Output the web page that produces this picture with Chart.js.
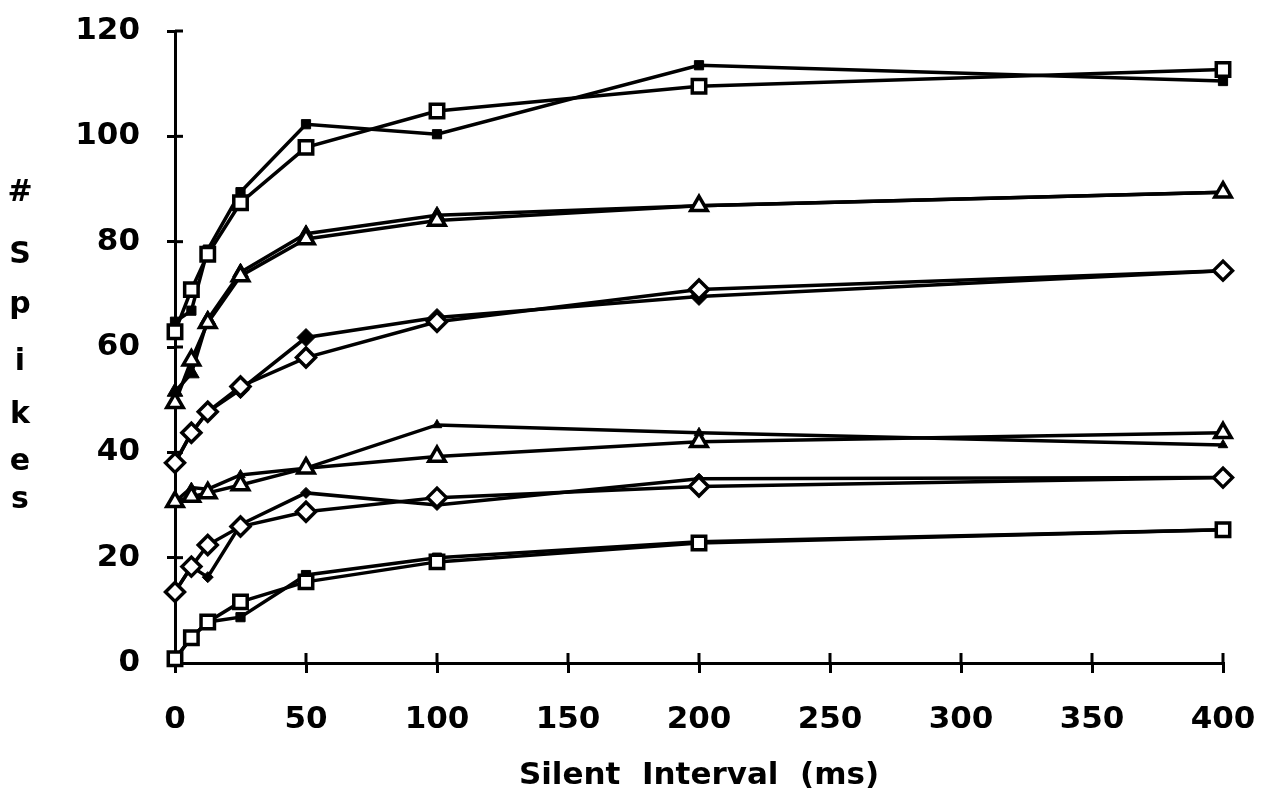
<!DOCTYPE html>
<html>
<head>
<meta charset="utf-8">
<script src="https://cdn.jsdelivr.net/npm/chart.js@4/dist/chart.umd.min.js"></script>
<style>
  html, body { margin: 0; padding: 0; background: #fff; }
  #wrap { position: relative; width: 1276px; height: 804px; }
</style>
</head>
<body>
<div id="wrap"><canvas id="c" width="1276" height="804"></canvas></div>
<script>
// ---- data ----
const intervals = [0, 6.25, 12.5, 25, 50, 100, 200, 400];
const xTickLabels = ['0','50','100','150','200','250','300','350','400'];
const yTickLabels = ['0','20','40','60','80','100','120'];
const xTitle = 'Silent  Interval  (ms)';
const yTitleLetters = ['#', 'S', 'p', 'i', 'k', 'e', 's'];

const sqTopOpen    = [62.9, 70.9, 77.6, 87.4, 97.9, 104.8, 109.5, 112.7];
const sqTopFilled  = [64.8, 66.9, 78.5, 89.4, 102.3, 100.4, 113.5, 110.5];
const triTopOpen   = [49.4, 57.5, 64.6, 73.5, 80.5, 84.0, 86.8, 89.4];
const triTopFilled = [51.5, 55.0, 65.2, 74.2, 81.5, 85.0, 86.8, 89.4];
const diaMidOpen   = [38.0, 43.7, 47.7, 52.5, 58.0, 64.8, 70.9, 74.5];
const diaMidFilled = [38.0, 43.7, 47.7, 51.9, 61.8, 65.6, 69.6, 74.5];
const triLowOpen   = [30.6, 31.6, 32.3, 33.8, 37.0, 39.2, 42.0, 43.7];
const triLowFilled = [30.6, 33.3, 33.0, 35.7, 37.0, 45.2, 43.7, 41.4];
const diaLowOpen   = [13.5, 18.3, 22.4, 25.9, 28.7, 31.4, 33.5, 35.2];
const diaLowFilled = [13.5, 18.3, 16.3, 26.3, 32.3, 30.0, 35.0, 35.2];
const sqLowOpen    = [0.8, 4.8, 7.8, 11.6, 15.4, 19.2, 22.8, 25.3];
const sqLowFilled  = [0.8, 4.8, 7.8, 8.7, 16.7, 20.0, 23.0, 25.3];

// ---- build datasets ----
const pts = vals => intervals.map((x, i) => ({ x: x, y: vals[i] }));
function openDs(vals, style, r) {
  return { data: pts(vals), borderColor: '#000', borderWidth: 3.5,
    pointStyle: style, pointRadius: r, pointBorderWidth: 3.5,
    pointBackgroundColor: '#fff', pointBorderColor: '#000', clip: false, tension: 0 };
}
function filledDs(vals, style, r) {
  return { data: pts(vals), borderColor: '#000', borderWidth: 3.5,
    pointStyle: style, pointRadius: r, pointBorderWidth: 1,
    pointBackgroundColor: '#000', pointBorderColor: '#000', clip: false, tension: 0 };
}
const datasets = [
  openDs(sqTopOpen, 'rect', 9.5),
  openDs(triTopOpen, 'triangle', 9.5),
  openDs(diaMidOpen, 'rectRot', 9.5),
  openDs(triLowOpen, 'triangle', 9.5),
  openDs(diaLowOpen, 'rectRot', 9.5),
  openDs(sqLowOpen, 'rect', 9.5),
  filledDs(sqTopFilled, 'rect', 6.5),
  filledDs(triTopFilled, 'triangle', 9),
  filledDs(diaMidFilled, 'rectRot', 9),
  filledDs(triLowFilled, 'triangle', 5.5),
  filledDs(diaLowFilled, 'rectRot', 5.5),
  filledDs(sqLowFilled, 'rect', 6.5)
];

const FONT = "'DejaVu Sans', sans-serif";

const innerTicks = {
  id: 'innerTicks',
  beforeDatasetsDraw(chart) {
    const { ctx, chartArea, scales: { x, y } } = chart;
    ctx.save();
    ctx.strokeStyle = '#000';
    ctx.lineWidth = 3;
    x.ticks.forEach(t => {
      const px = x.getPixelForValue(t.value);
      ctx.beginPath(); ctx.moveTo(px, chartArea.bottom); ctx.lineTo(px, chartArea.bottom - 10); ctx.stroke();
    });
    y.ticks.forEach(t => {
      const py = y.getPixelForValue(t.value);
      ctx.beginPath(); ctx.moveTo(chartArea.left, py); ctx.lineTo(chartArea.left + 8, py); ctx.stroke();
    });
    ctx.restore();
  }
};

const yTitleCenters = [193, 255, 305, 362, 415, 462, 500];
const stackedTitle = {
  id: 'stackedTitle',
  afterDraw(chart) {
    const ctx = chart.ctx;
    ctx.save();
    ctx.fillStyle = '#000';
    ctx.font = "bold 30px " + FONT;
    ctx.textAlign = 'center';
    ctx.textBaseline = 'middle';
    yTitleLetters.forEach((ch, i) => ctx.fillText(ch, 20, yTitleCenters[i]));
    ctx.restore();
  }
};

new Chart(document.getElementById('c'), {
  type: 'line',
  data: { datasets },
  options: {
    responsive: false,
    animation: false,
    events: [],
    layout: { padding: { top: 31, right: 53, left: 0, bottom: 0 } },
    plugins: { legend: { display: false }, tooltip: { enabled: false } },
    scales: {
      x: {
        type: 'linear', min: 0, max: 400,
        afterFit: s => { s.height = 141; s.paddingLeft = 0; s.paddingRight = 0; },
        afterBuildTicks: s => { s.ticks = xTickLabels.map(v => ({ value: Number(v) })); },
        ticks: {
          color: '#000', font: { family: FONT, size: 31, weight: 'bold' }, padding: 28,
          maxRotation: 0, autoSkip: false,
          callback: (v, i) => xTickLabels[i]
        },
        grid: { drawOnChartArea: false, drawTicks: true, tickLength: 10, color: '#000', lineWidth: 3 },
        border: { display: true, color: '#000', width: 3 },
        title: { display: true, text: xTitle, color: '#000',
          font: { family: FONT, size: 31, weight: 'bold' }, padding: { top: 0, bottom: 9 } }
      },
      y: {
        type: 'linear', min: 0, max: 120,
        afterFit: s => { s.width = 175; s.paddingTop = 0; s.paddingBottom = 0; },
        afterBuildTicks: s => { s.ticks = yTickLabels.map(v => ({ value: Number(v) })); },
        ticks: {
          color: '#000', font: { family: FONT, size: 31, weight: 'bold' }, padding: 27,
          autoSkip: false,
          callback: (v, i) => yTickLabels[i]
        },
        grid: { drawOnChartArea: false, drawTicks: true, tickLength: 8, color: '#000', lineWidth: 3 },
        border: { display: true, color: '#000', width: 3 }
      }
    }
  },
  plugins: [innerTicks, stackedTitle]
});
</script>
</body>
</html>
